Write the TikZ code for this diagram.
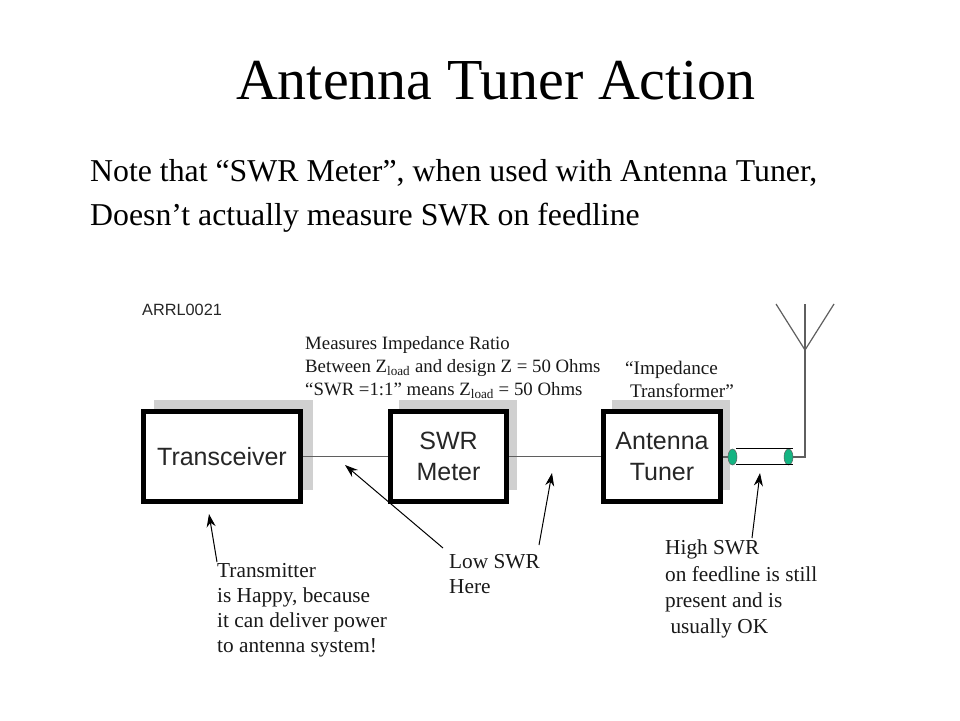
\documentclass[tikz,border=0pt]{standalone}
\usepackage{fontspec}
\setmainfont{Liberation Serif}
\newfontfamily\labelsans{Liberation Sans}
\usetikzlibrary{arrows.meta,shapes.geometric}
\definecolor{shadowgray}{RGB}{208,208,208}
\definecolor{wirecol}{RGB}{95,95,95}
\definecolor{coaxgreen}{RGB}{20,180,130}
\tikzset{
 blockbox/.style={draw=black,line width=5pt,fill=white,inner sep=0pt,align=center,
   font=\labelsans\fontsize{25}{31}\selectfont,text=black!85},
 shadowbox/.style={fill=shadowgray,draw=none},
 wire/.style={draw=wirecol,line width=1.2pt},
 callout/.style={draw=black,line width=1pt,-{Stealth[length=13pt,width=9pt]}},
 note/.style={inner sep=0pt,anchor=north west,align=left,font=\fontsize{21.3}{25}\selectfont,text=black!90},
 smallnote/.style={note,font=\fontsize{18.8}{23}\selectfont},
 coaxend/.style={ellipse,draw=wirecol,line width=0.5pt,fill=coaxgreen,minimum width=9pt,minimum height=16pt,inner sep=0pt},
}
\newcommand{\Zload}{Z\textsubscript{load}}
\begin{document}
\begin{tikzpicture}[x=1pt,y=-1pt]
\useasboundingbox (0,0) rectangle (960,720);
\fill[white] (0,0) rectangle (960,720);
% title
\node[inner sep=0pt,anchor=base] (title) at (496,99) {\fontsize{58}{64}\selectfont Antenna Tuner Action};
\node[inner sep=0pt,anchor=north west,align=left,font=\fontsize{31.8}{44}\selectfont] (intro) at (90,159)
 {Note that “SWR Meter”, when used with Antenna Tuner,\\Doesn’t actually measure SWR on feedline};
\node[inner sep=0pt,anchor=base west,font=\labelsans\fontsize{16.3}{18}\selectfont,text=black!85] (arrl) at (142,315) {ARRL0021};
% shadows
\fill[shadowbox] (154,400) rectangle (313,490);
\fill[shadowbox] (399,400) rectangle (517,490);
\fill[shadowbox] (612,400) rectangle (730,490);
% boxes
\node[blockbox,minimum width=157pt,minimum height=90pt] (tr) at (222,456.5) {Transceiver};
\node[blockbox,minimum width=116pt,minimum height=90pt] (swr) at (448.5,456.5) {SWR\\Meter};
\node[blockbox,minimum width=117pt,minimum height=90pt] (tun) at (662,456.5) {Antenna\\Tuner};
\draw[wire] (tr.east) -- (swr.west);
\draw[wire] (swr.east) -- (tun.west);
% coax
\node[coaxend] (c1) at (732.5,457) {};
\node[coaxend] (c2) at (788.5,457) {};
\coordinate (ct1) at (736,448);
\coordinate (ct2) at (793,448);
\coordinate (cb1) at (736,464.5);
\coordinate (cb2) at (793,464.5);
\draw[black,line width=1pt] (ct1) -- (ct2);
\draw[black,line width=1pt] (cb1) -- (cb2);
\draw[wire] (tun.east |- c1) -- (c1.west);
% antenna
\coordinate (ajoin) at (805,350);
\coordinate (aleft) at (776,304);
\coordinate (amid) at (805,304);
\coordinate (aright) at (834,304);
\draw[wire] (c2.east) -- (ajoin |- c2) -- (ajoin);
\draw[wire] (aleft) -- (ajoin) -- (aright);
\draw[wire] (ajoin) -- (amid);
% notes
\node[smallnote] (meas) at (305,336)
 {Measures Impedance Ratio\\Between \Zload{} and design Z = 50 Ohms\\“SWR =1:1” means \Zload{} = 50 Ohms};
\node[smallnote,font=\fontsize{19.2}{23}\selectfont] (imp) at (625,361)
 {“Impedance\\\ Transformer”};
\node[note] (tx) at (217,563)
 {Transmitter\\is Happy, because\\it can deliver power\\to antenna system!};
\node[note] (low) at (449,554) {Low SWR\\Here};
\node[note,font=\fontsize{21.3}{26.2}\selectfont] (high) at (665,540) {High SWR\\on feedline is still\\present and is\\\ usually OK};
% callouts
\coordinate (t1) at (217,562); \coordinate (t2) at (209,514);
\coordinate (l1) at (443,548); \coordinate (l2) at (345,465);
\coordinate (m1) at (539,545); \coordinate (m2) at (552,473);
\coordinate (h1) at (752,538); \coordinate (h2) at (760,473);
\draw[callout] (t1) -- (t2);
\draw[callout] (l1) -- (l2);
\draw[callout] (m1) -- (m2);
\draw[callout] (h1) -- (h2);
\end{tikzpicture}
\end{document}
